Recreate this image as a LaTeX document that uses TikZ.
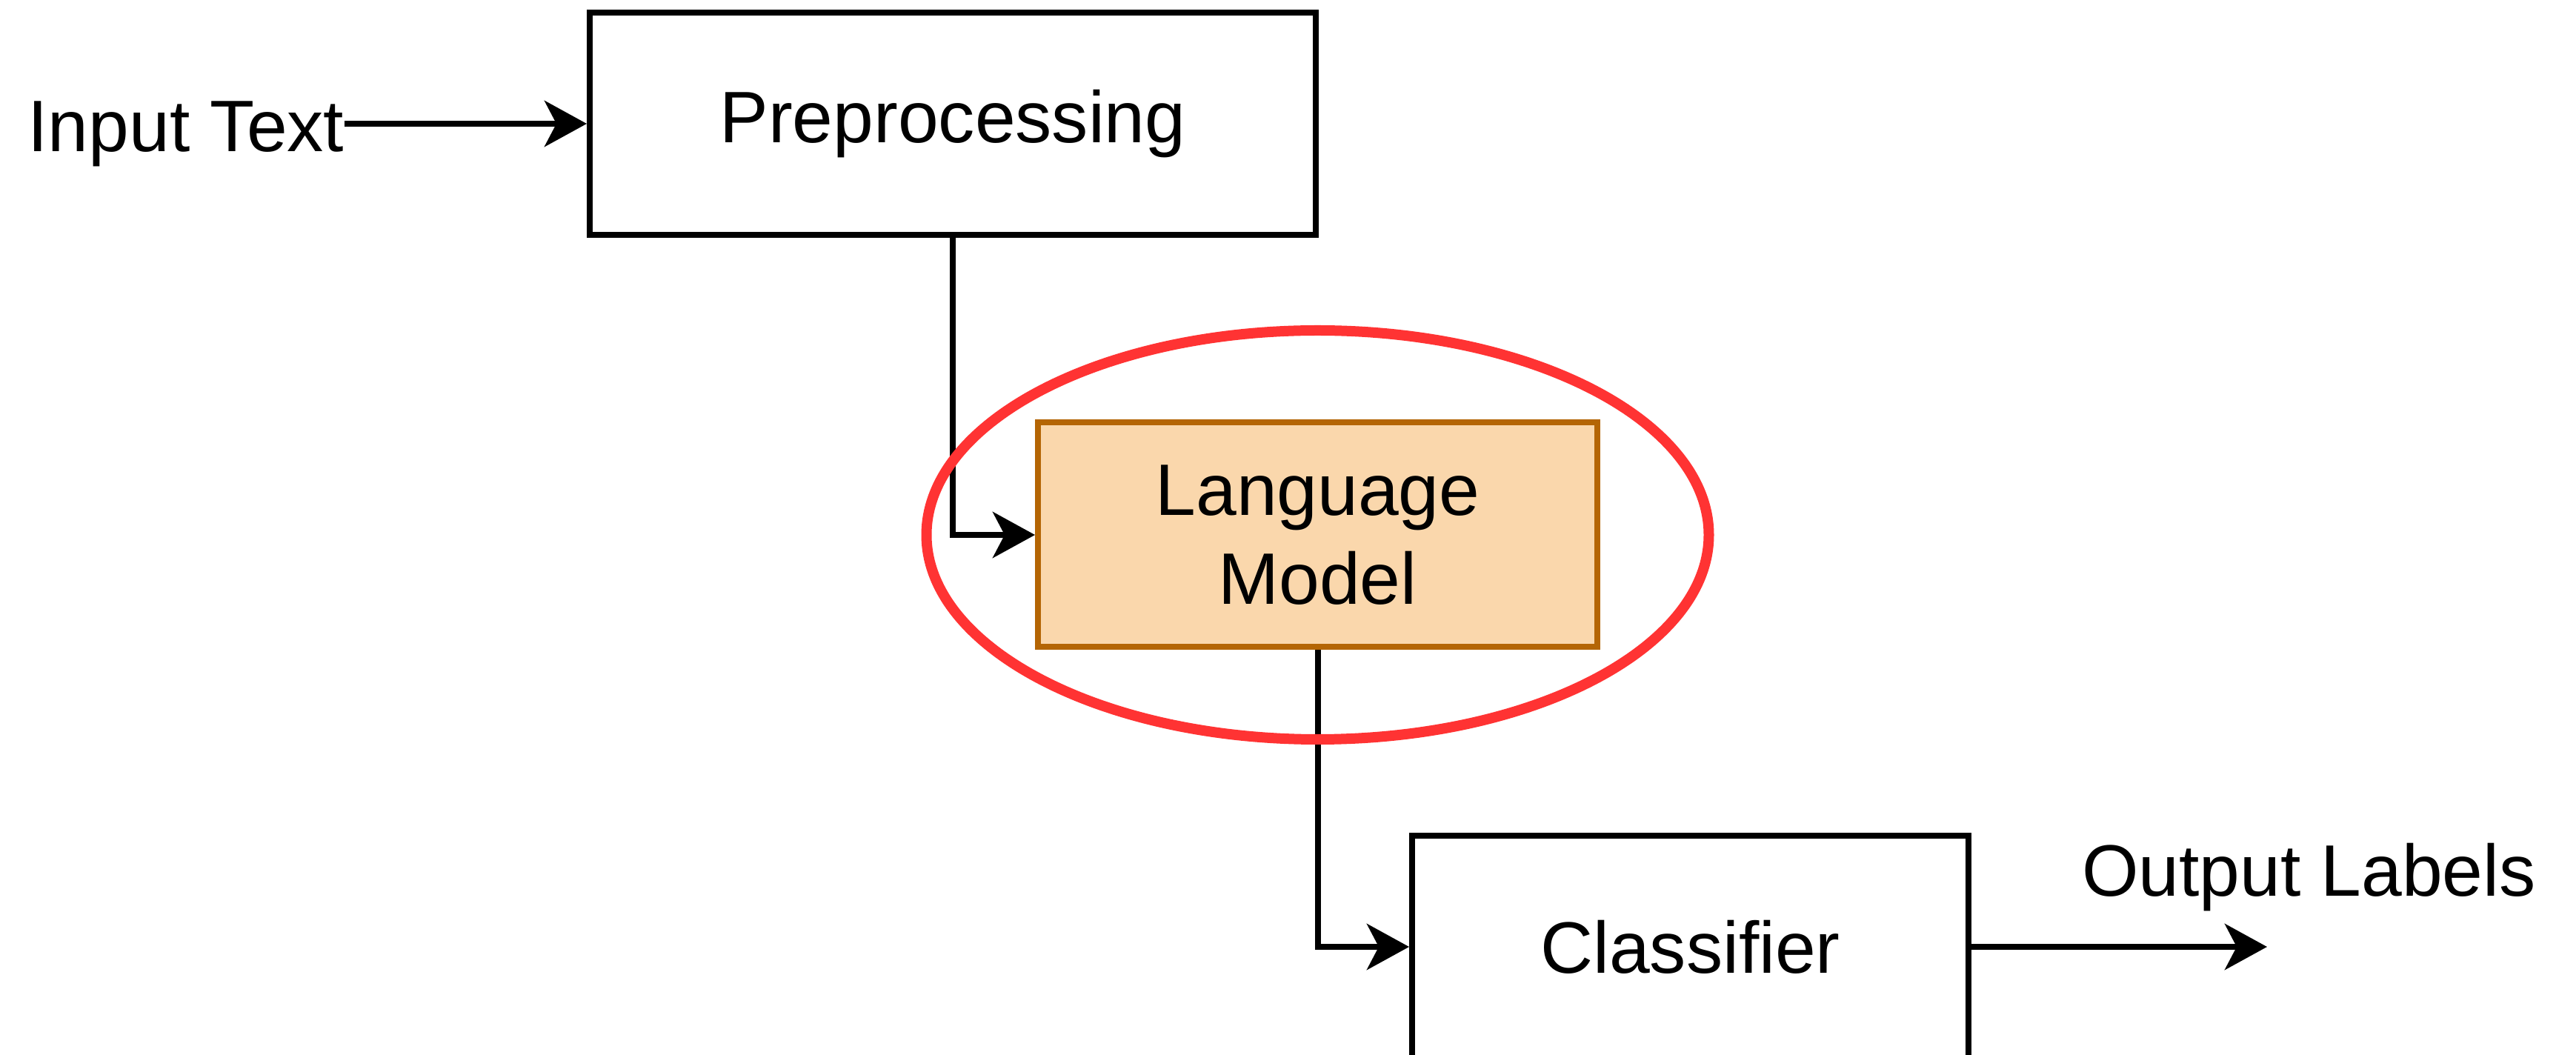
\documentclass[tikz,border=0pt]{standalone}
\usepackage{fontspec}
\setmainfont{Liberation Sans}
\usepackage{xcolor}
\definecolor{lmfill}{HTML}{FAD7AC}
\definecolor{lmdraw}{HTML}{B46504}
\definecolor{ringred}{HTML}{FF3333}
\usepackage{tikz}
\usetikzlibrary{positioning, shapes.geometric, arrows.meta}
\tikzstyle{block} = [
    rectangle, text centered,
    minimum width=7.51cm,
    minimum height=3cm,
    line width=0.08cm,
    draw=black,
    fill=white,
    font=\fontsize{28}{34}\selectfont,
]
\tikzstyle{model} = [
    block,
    align=center,
    minimum width=7.55cm,
    minimum height=3.03cm,
    fill=lmfill,
    draw=lmdraw,
]
\tikzstyle{io} = [
    inner sep=0pt,
    font=\fontsize{28}{34}\selectfont,
]
\tikzstyle{arrow} = [-{Stealth[length=5.7mm, width=6.2mm, inset=1.6mm]}, line width=0.08cm]

\begin{document}
\begin{tikzpicture}
    \useasboundingbox (0,0) rectangle (34.77,-14.24);

    % boxes
    \node (pre) at (12.86,-1.67) [block, minimum width=9.8cm] {Preprocessing};
    \node (lm) at (17.785,-7.22) [model] {Language\\Model};
    \node (cls) at (22.815,-12.78) [block] {Classifier};
    \node (input) at (4.65,-2.05) [io, anchor=base east] {Input Text};
    \node (output) at (31.165,-12.10) [io, anchor=base] {Output Labels};
    \coordinate (end) at (30.6,-12.78);

    % arrows
    \draw [arrow] (input.east |- pre.west) to (pre.west);
    \draw [arrow] (pre.south) |- (lm.west);
    \draw [arrow] (lm.south) |- (cls.west);
    \draw [arrow] (cls.east) to (end);

    % highlight
    \node (focus) at (lm) [ellipse, draw=ringred, line width=0.14cm, minimum width=10.56cm, minimum height=5.52cm] {};
\end{tikzpicture}
\end{document}
